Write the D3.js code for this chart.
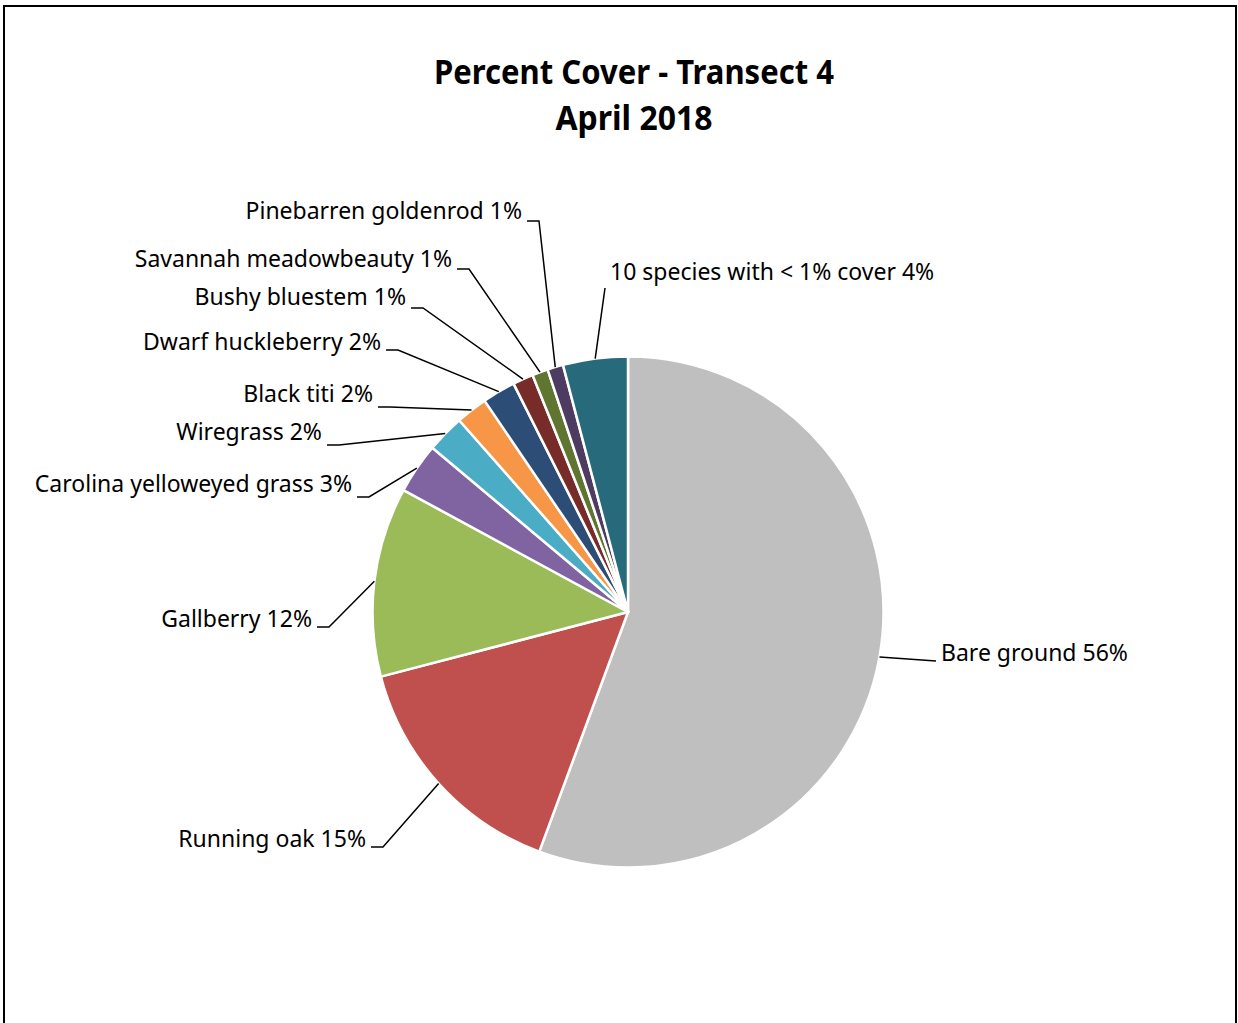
<!DOCTYPE html>
<html>
<head>
<meta charset="utf-8">
<script src="https://cdn.jsdelivr.net/npm/d3@7"></script>
<style>
  body { margin: 0; background: #fff; }
  text { font-family: "Noto Sans", "Open Sans", sans-serif; fill: #000; }
</style>
</head>
<body>
<div id="chart"></div>
<script>
// data (percent cover)
const categories = ["Bare ground", "Running oak", "Gallberry", "Carolina yelloweyed grass", "Wiregrass",
    "Black titi", "Dwarf huckleberry", "Bushy bluestem", "Savannah meadowbeauty", "Pinebarren goldenrod",
    "10 species with < 1% cover"];
const cover = [55.7, 15.3, 12.0, 3.2, 2.4, 2.0, 2.1, 1.3, 1.0, 1.0, 4.1];
const sliceColors = ["#bfbfbf", "#c0504d", "#9bbb59", "#8064a2", "#4bacc6", "#f79646",
    "#2c4d75", "#772c2a", "#5f7530", "#4d3b62", "#276a7c"];
const titleLines = ["Percent Cover - Transect 4", "April 2018"];

// label layout: side, text x, baseline, leader y
const labelPos = [
    { side: "r", x: 941, y: 661, ly: 661 },
    { side: "l", x: 366, y: 847, ly: 847 },
    { side: "l", x: 312, y: 627, ly: 627 },
    { side: "l", x: 352, y: 492, ly: 497 },
    { side: "l", x: 322, y: 440, ly: 445 },
    { side: "l", x: 373, y: 402, ly: 407 },
    { side: "l", x: 381, y: 350, ly: 350 },
    { side: "l", x: 406, y: 305, ly: 308 },
    { side: "l", x: 452, y: 267, ly: 269 },
    { side: "l", x: 522, y: 219, ly: 221 },
    { side: "t", x: 610, y: 280, ly: 288 }
];

const W = 1238, H = 1023;
const cx = 628, cy = 612, radius = 255.5;

const svg = d3.select("#chart").append("svg")
    .attr("width", W)
    .attr("height", H);

// chart frame (bottom edge runs off the page)
svg.append("rect")
    .attr("x", 4).attr("y", 6)
    .attr("width", 1232).attr("height", 1040)
    .attr("fill", "#fff")
    .attr("stroke", "#000")
    .attr("stroke-width", 2);

// title
svg.selectAll(".title")
    .data(titleLines)
    .enter().append("text")
    .attr("class", "title")
    .attr("x", 634)
    .attr("y", (d, i) => 84 + i * 46)
    .attr("text-anchor", "middle")
    .style("font-size", "34px")
    .style("font-weight", "bold")
    .attr("textLength", (d, i) => i === 0 ? 400 : 157)
    .attr("lengthAdjust", "spacingAndGlyphs")
    .text(d => d);

const total = d3.sum(cover);
const pie = d3.pie().sort(null).value(d => d)(cover);
const arc = d3.arc().innerRadius(0).outerRadius(radius);
const edge = d3.arc().innerRadius(radius).outerRadius(radius);

const g = svg.append("g").attr("transform", "translate(" + cx + "," + cy + ")");

g.selectAll(".slice")
    .data(pie)
    .enter().append("path")
    .attr("class", "slice")
    .attr("d", arc)
    .attr("fill", (d, i) => sliceColors[i])
    .attr("stroke", "#fff")
    .attr("stroke-width", 2.5)
    .attr("stroke-linejoin", "round");

// leader lines
svg.selectAll(".leader")
    .data(pie)
    .enter().append("polyline")
    .attr("class", "leader")
    .attr("fill", "none")
    .attr("stroke", "#000")
    .attr("stroke-width", 1.5)
    .attr("points", (d, i) => {
        const p = labelPos[i];
        const c = edge.centroid(d);
        const e = [cx + c[0], cy + c[1]];
        if (p.side === "l") return [[p.x + 5, p.ly], [p.x + 17, p.ly], e].join(" ");
        return [e, [p.x - 5, p.ly]].join(" ");
    });

// labels
svg.selectAll(".lbl")
    .data(pie)
    .enter().append("text")
    .attr("class", "lbl")
    .attr("x", (d, i) => labelPos[i].x)
    .attr("y", (d, i) => labelPos[i].y)
    .attr("text-anchor", (d, i) => labelPos[i].side === "l" ? "end" : "start")
    .style("font-size", "23px")
    .text((d, i) => categories[i] + " " + Math.round(d.data / total * 100) + "%");
</script>
</body>
</html>
